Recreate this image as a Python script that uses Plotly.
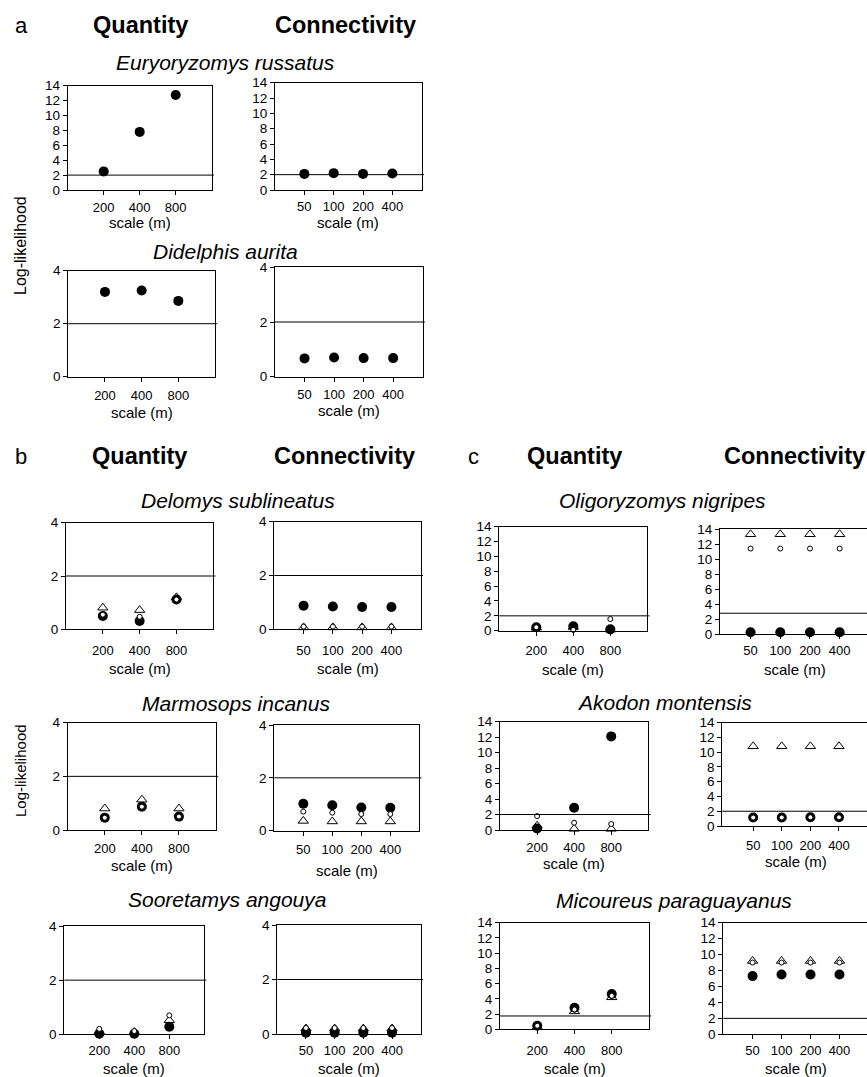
import plotly.graph_objects as go

W, H = 867, 1077
FONT = "Liberation Sans, Arial, sans-serif"

# ---------------- data ----------------
quantity_scales = ["200", "400", "800"]
connectivity_scales = ["50", "100", "200", "400"]

species_names = ["Euryoryzomys russatus", "Didelphis aurita", "Delomys sublineatus",
                 "Marmosops incanus", "Sooretamys angouya", "Oligoryzomys nigripes",
                 "Akodon montensis", "Micoureus paraguayanus"]

# section a (filled circles only)
E_russatus_quantity = [2.5, 7.8, 12.75]
E_russatus_connectivity = [2.1, 2.2, 2.1, 2.15]
D_aurita_quantity = [3.2, 3.25, 2.86]
D_aurita_connectivity = [0.67, 0.7, 0.68, 0.68]

# sections b and c: filled circle / open triangle / small open circle
D_sublineatus_q_filled = [0.5, 0.31, 1.12]
D_sublineatus_q_triangle = [0.81, 0.72, 1.2]
D_sublineatus_q_open = [0.55, 0.47, 1.12]
D_sublineatus_c_filled = [0.88, 0.85, 0.83, 0.83]
D_sublineatus_c_triangle = [0.07, 0.07, 0.07, 0.07]
D_sublineatus_c_open = [0.1, 0.1, 0.1, 0.1]

M_incanus_q_filled = [0.46, 0.87, 0.5]
M_incanus_q_triangle = [0.8, 1.13, 0.8]
M_incanus_q_open = [0.46, 0.87, 0.5]
M_incanus_c_filled = [1.02, 0.96, 0.88, 0.87]
M_incanus_c_triangle = [0.37, 0.35, 0.35, 0.35]
M_incanus_c_open = [0.72, 0.68, 0.63, 0.63]

S_angouya_q_filled = [0.02, 0.02, 0.28]
S_angouya_q_triangle = [0.1, 0.08, 0.52]
S_angouya_q_open = [0.2, 0.12, 0.7]
S_angouya_c_filled = [0.05, 0.05, 0.05, 0.05]
S_angouya_c_triangle = [0.2, 0.2, 0.2, 0.2]
S_angouya_c_open = [0.22, 0.22, 0.22, 0.22]

O_nigripes_q_filled = [0.46, 0.6, 0.18]
O_nigripes_q_triangle = [0.4, 0.5, 0.15]
O_nigripes_q_open = [0.46, 0.1, 1.57]
O_nigripes_c_filled = [0.27, 0.27, 0.27, 0.27]
O_nigripes_c_triangle = [13.3, 13.3, 13.3, 13.3]
O_nigripes_c_open = [11.4, 11.4, 11.4, 11.4]

A_montensis_q_filled = [0.2, 2.88, 12.1]
A_montensis_q_triangle = [0.55, 0.15, 0.15]
A_montensis_q_open = [1.8, 0.94, 0.77]
A_montensis_c_filled = [1.15, 1.15, 1.18, 1.18]
A_montensis_c_triangle = [10.8, 10.8, 10.8, 10.8]
A_montensis_c_open = [1.15, 1.15, 1.18, 1.18]

M_paraguayanus_q_filled = [0.47, 2.84, 4.63]
M_paraguayanus_q_triangle = [0.3, 2.35, 4.2]
M_paraguayanus_q_open = [0.47, 2.6, 4.4]
M_paraguayanus_c_filled = [7.3, 7.5, 7.5, 7.5]
M_paraguayanus_c_triangle = [9.2, 9.2, 9.2, 9.2]
M_paraguayanus_c_open = [9.0, 9.0, 9.0, 9.0]

# threshold line per panel
thresholds = [2, 2, 2, 2,
              2, 2, 2, 2, 2, 2,
              2, 2.8, 2, 2, 1.75, 2]

# ---------------- layout of panels (pixels) ----------------
# (left, right, top, bottom, ymax, xrange, tick label offset, scale-title y)
panel_boxes = [
    (67.7, 211.7, 85.7, 190, 14, [-1, 3], 16.7, 222),
    (275, 421.7, 82.7, 190, 14, [-1, 4], 15.5, 222),
    (68.3, 215, 270.7, 376.7, 4, [-1, 3], 19, 412.5),
    (275, 422.7, 267.3, 376.7, 4, [-1, 4], 18.3, 410),
    (66, 213.3, 522.7, 629.3, 4, [-1, 3], 20.7, 668.3),
    (274.3, 420.7, 521.7, 629.3, 4, [-1, 4], 21.4, 668.3),
    (67.7, 216, 722.7, 830, 4, [-1, 3], 17.7, 865),
    (274.3, 419.3, 725, 830.7, 4, [-1, 4], 19.3, 870),
    (64.3, 204.3, 926, 1034.3, 4, [-1, 3], 15.7, 1068),
    (277.3, 420.7, 925, 1034, 4, [-1, 4], 16, 1068),
    (499.3, 647.3, 526.7, 630.7, 14, [-1, 3], 20, 669.3),
    (720, 867, 529, 634.3, 14, [-1.03, 3.92], 16.4, 669.3),
    (500, 648.3, 721.7, 830, 14, [-1, 3], 16.7, 863.3),
    (722.3, 867, 722.7, 826, 14, [-1.08, 3.98], 19, 861.7),
    (500, 649, 922.7, 1029.3, 14, [-1, 3], 20.7, 1068),
    (723.3, 867, 922.7, 1034.3, 14, [-1.01, 3.95], 15.7, 1068),
]

# series per panel: (filled, triangle, open)
panel_series = [
    (E_russatus_quantity, None, None),
    (E_russatus_connectivity, None, None),
    (D_aurita_quantity, None, None),
    (D_aurita_connectivity, None, None),
    (D_sublineatus_q_filled, D_sublineatus_q_triangle, D_sublineatus_q_open),
    (D_sublineatus_c_filled, D_sublineatus_c_triangle, D_sublineatus_c_open),
    (M_incanus_q_filled, M_incanus_q_triangle, M_incanus_q_open),
    (M_incanus_c_filled, M_incanus_c_triangle, M_incanus_c_open),
    (S_angouya_q_filled, S_angouya_q_triangle, S_angouya_q_open),
    (S_angouya_c_filled, S_angouya_c_triangle, S_angouya_c_open),
    (O_nigripes_q_filled, O_nigripes_q_triangle, O_nigripes_q_open),
    (O_nigripes_c_filled, O_nigripes_c_triangle, O_nigripes_c_open),
    (A_montensis_q_filled, A_montensis_q_triangle, A_montensis_q_open),
    (A_montensis_c_filled, A_montensis_c_triangle, A_montensis_c_open),
    (M_paraguayanus_q_filled, M_paraguayanus_q_triangle, M_paraguayanus_q_open),
    (M_paraguayanus_c_filled, M_paraguayanus_c_triangle, M_paraguayanus_c_open),
]

# species title positions (pixels)
title_pos = [(225.7, 62.7), (225.8, 251.7), (237.5, 500.7), (236, 703.3),
             (226.7, 899.3), (662, 500.7), (664, 702.7), (673.5, 900)]


def px(x):
    return x / W


def py(y):
    return 1 - y / H


fig = go.Figure()
annotations = []
shapes = []
layout_axes = {}

for i, (box, series) in enumerate(zip(panel_boxes, panel_series)):
    n = i + 1
    L, R, T, B, ymax, xr, toff, scy = box
    cats = quantity_scales if i % 2 == 0 else connectivity_scales
    xa = "x" if n == 1 else f"x{n}"
    ya = "y" if n == 1 else f"y{n}"
    filled, tri, opn = series
    fig.add_trace(go.Scatter(x=cats, y=filled, mode="markers", xaxis=xa, yaxis=ya,
                             cliponaxis=False,
                             marker=dict(symbol="circle", size=10, color="black",
                                         line=dict(width=0))))
    if tri is not None:
        fig.add_trace(go.Scatter(x=cats, y=tri, mode="markers", xaxis=xa, yaxis=ya,
                                 cliponaxis=False,
                                 marker=dict(symbol="triangle-up-open", size=9, color="black",
                                             line=dict(width=1, color="black"))))
    if opn is not None:
        fig.add_trace(go.Scatter(x=cats, y=opn, mode="markers", xaxis=xa, yaxis=ya,
                                 cliponaxis=False,
                                 marker=dict(symbol="circle", size=5, color="white",
                                             line=dict(width=1, color="black"))))
    right_edge = R >= W - 0.5
    xkey = "xaxis" if n == 1 else f"xaxis{n}"
    ykey = "yaxis" if n == 1 else f"yaxis{n}"
    layout_axes[xkey] = dict(
        domain=[px(L), min(px(R), 1.0)], anchor=ya, type="category",
        categoryorder="array", categoryarray=cats,
        range=xr, showline=True, linecolor="black", linewidth=1, mirror=True,
        ticks="outside", ticklen=4, tickcolor="black", showgrid=False, zeroline=False,
        tickfont=dict(family=FONT, size=13, color="black"),
        ticklabelstandoff=max(0, int(round(toff - 16))), fixedrange=True)
    layout_axes[ykey] = dict(
        domain=[py(B), py(T)], anchor=xa, range=[0, ymax], dtick=2, tick0=0,
        showline=True, linecolor="black", linewidth=1,
        mirror=False if right_edge else True,
        ticks="outside", ticklen=4, tickcolor="black", showgrid=False, zeroline=False,
        tickfont=dict(family=FONT, size=13.5, color="black"), fixedrange=True)
    shapes.append(dict(type="line", xref=f"{xa} domain", yref=ya, x0=0, x1=1.015,
                       y0=thresholds[i], y1=thresholds[i],
                       line=dict(color="black", width=1)))
    annotations.append(dict(text="scale (m)", xref=xa, yref="paper",
                            x=(len(cats) - 1) / 2, y=py(scy), showarrow=False,
                            xanchor="center", yanchor="middle",
                            font=dict(family=FONT, size=15, color="black")))

for name, (tx, ty) in zip(species_names, title_pos):
    annotations.append(dict(text=f"<i>{name}</i>", xref="paper", yref="paper",
                            x=px(tx), y=py(ty), showarrow=False,
                            xanchor="center", yanchor="middle",
                            font=dict(family=FONT, size=21, color="black")))

headers = [("a", 21, 25, False), ("Quantity", 140, 25, True), ("Connectivity", 345.5, 25, True),
           ("b", 21, 456, False), ("Quantity", 139, 456, True), ("Connectivity", 344, 456, True),
           ("c", 473, 456, False), ("Quantity", 574, 456, True), ("Connectivity", 794, 456, True)]
for txt, hx, hy, bold in headers:
    annotations.append(dict(text=f"<b>{txt}</b>" if bold else txt, xref="paper", yref="paper",
                            x=px(hx), y=py(hy), showarrow=False,
                            xanchor="center", yanchor="middle",
                            font=dict(family=FONT, size=23.5 if bold else 22, color="black")))

for ly, lsize in [(246, 16), (771, 15)]:
    annotations.append(dict(text="Log-likelihood", xref="paper", yref="paper",
                            x=px(20), y=py(ly), showarrow=False, textangle=-90,
                            xanchor="center", yanchor="middle",
                            font=dict(family=FONT, size=lsize, color="black")))

fig.update_layout(width=W, height=H, margin=dict(l=0, r=0, t=0, b=0, autoexpand=False),
                  paper_bgcolor="white", plot_bgcolor="white", showlegend=False,
                  annotations=annotations, shapes=shapes, **layout_axes)

fig.write_html("out.html", config={"displayModeBar": False},
               post_script="document.body.style.margin='0';document.body.style.overflow='hidden';")
